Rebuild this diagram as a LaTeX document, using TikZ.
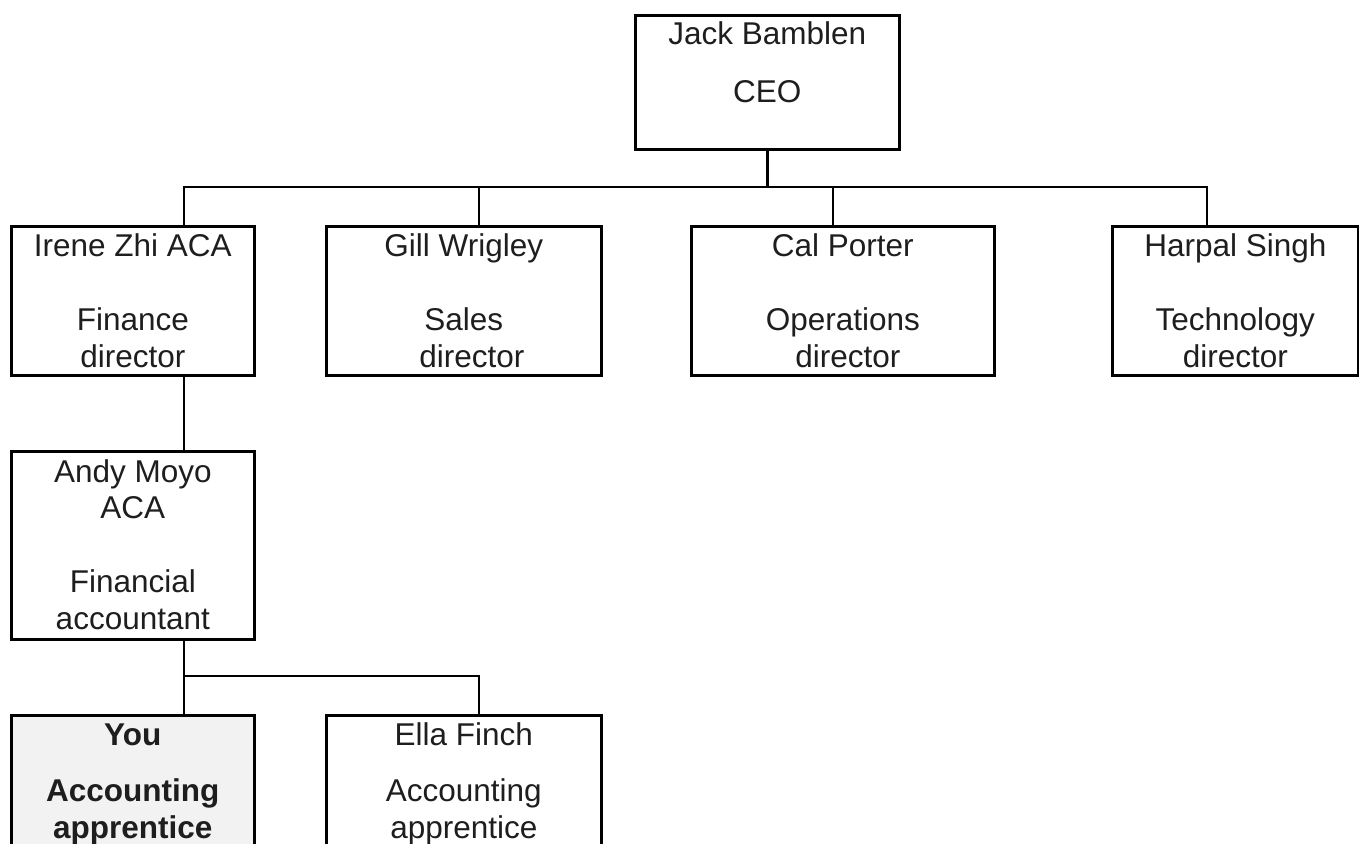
\documentclass[tikz,border=0pt]{standalone}
\usepackage{fontspec}
\setmainfont{Liberation Sans}
\definecolor{txtcol}{HTML}{1E1E1E}
\definecolor{youfill}{HTML}{F2F2F2}
\begin{document}
\begin{tikzpicture}[x=1pt,y=-1pt,
  box/.style={draw=black, line width=2.6pt, rectangle, inner sep=0pt, anchor=north west},
  txt/.style={font=\fontsize{31.5}{37}\selectfont, text=txtcol, inner sep=0pt, anchor=base},
  btxt/.style={txt, font=\fontsize{31.5}{37}\selectfont\bfseries},
  conn/.style={draw=black, line width=2.6pt, line cap=rect, line join=miter}]
\useasboundingbox (0,0) rectangle (1359,843);
\clip (0,0) rectangle (1359,843);

% boxes
\node[box, minimum width=264pt, minimum height=134pt] (ceo) at (634,14) {};
\node[box, minimum width=243pt, minimum height=149pt] (irene) at (10,225) {};
\node[box, minimum width=275pt, minimum height=149pt] (gill) at (325,225) {};
\node[box, minimum width=303pt, minimum height=149pt] (cal) at (690,225) {};
\node[box, minimum width=246pt, minimum height=149pt] (harpal) at (1111,225) {};
\node[box, minimum width=243pt, minimum height=188pt] (andy) at (10,450) {};
\node[box, fill=youfill, minimum width=243pt, minimum height=200pt] (you) at (10,714) {};
\node[box, minimum width=275pt, minimum height=200pt] (ella) at (325,714) {};

% texts
\node[txt] (ceoA) at ([yshift=-31pt]ceo.north) {Jack Bamblen};
\node[txt] (ceoB) at ([yshift=-88pt]ceo.north) {CEO};

\node[txt] (ireneA) at ([yshift=-31pt]irene.north) {Irene Zhi ACA};
\node[txt] (ireneB) at ([yshift=-105pt]irene.north) {Finance};
\node[txt] (ireneC) at ([yshift=-142pt]irene.north) {director};

\node[txt] (gillA) at ([yshift=-31pt]gill.north) {Gill Wrigley};
\node[txt] (gillB) at ([yshift=-105pt]gill.north) {Sales};
\node[txt] (gillC) at ([xshift=8pt,yshift=-142pt]gill.north) {director};

\node[txt] (calA) at ([yshift=-31pt]cal.north) {Cal Porter};
\node[txt] (calB) at ([yshift=-105pt]cal.north) {Operations};
\node[txt] (calC) at ([xshift=5pt,yshift=-142pt]cal.north) {director};

\node[txt] (harpalA) at ([yshift=-31pt]harpal.north) {Harpal Singh};
\node[txt] (harpalB) at ([yshift=-105pt]harpal.north) {Technology};
\node[txt] (harpalC) at ([yshift=-142pt]harpal.north) {director};

\node[txt] (andyA) at ([yshift=-32pt]andy.north) {Andy Moyo};
\node[txt] (andyB) at ([yshift=-68pt]andy.north) {ACA};
\node[txt] (andyC) at ([yshift=-142pt]andy.north) {Financial};
\node[txt] (andyD) at ([yshift=-179pt]andy.north) {accountant};

\node[btxt] (youA) at ([yshift=-31pt]you.north) {You};
\node[btxt] (youB) at ([yshift=-87pt]you.north) {Accounting};
\node[btxt] (youC) at ([yshift=-124pt]you.north) {apprentice};

\node[txt] (ellaA) at ([yshift=-31pt]ella.north) {Ella Finch};
\node[txt] (ellaB) at ([yshift=-87pt]ella.north) {Accounting};
\node[txt] (ellaC) at ([yshift=-124pt]ella.north) {apprentice};

% connectors
\coordinate (busL) at (184,187);
\coordinate (busR) at (1207,187);
\coordinate (gillDrop) at (479,187);
\coordinate (calDrop) at (833,187);
\coordinate (subL) at (184,676);
\coordinate (subR) at (479,676);

\draw[conn] (ceo.south) -- (ceo.south |- busL);
\draw[conn] (busL) -- (busR);
\draw[conn] (busL) -- (busL |- irene.north);
\draw[conn] (gillDrop) -- (gillDrop |- gill.north);
\draw[conn] (calDrop) -- (calDrop |- cal.north);
\draw[conn] (busR) -- (busR |- harpal.north);
\draw[conn] (busL |- irene.south) -- (busL |- andy.north);
\draw[conn] (subL |- andy.south) -- (subL |- you.north);
\draw[conn] (subL) -- (subR) -- (subR |- ella.north);
\end{tikzpicture}
\end{document}
